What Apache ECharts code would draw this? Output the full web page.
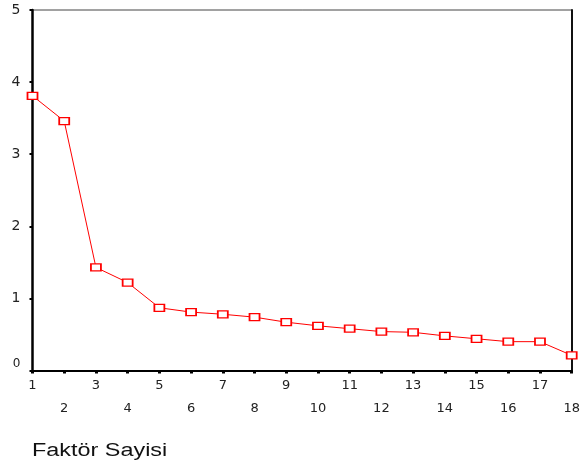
<!DOCTYPE html>
<html>
<head>
<meta charset="utf-8">
<script src="https://cdn.jsdelivr.net/npm/echarts@6/dist/echarts.min.js"></script>
<style>
html,body{margin:0;padding:0;background:#fff;}
#c{width:583px;height:463px;}
</style>
</head>
<body>
<div id="c"></div>
<script>
var factors = [1,2,3,4,5,6,7,8,9,10,11,12,13,14,15,16,17,18];
var eigenvalues = [3.81,3.46,1.43,1.22,0.87,0.81,0.78,0.74,0.67,0.62,0.58,0.54,0.53,0.48,0.44,0.40,0.40,0.21];
var yTicks = [0,1,2,3,4,5];
var xTitle = 'Faktör Sayisi';

var chart = echarts.init(document.getElementById('c'), null, {renderer:'canvas'});
var seriesData = factors.map(function(f,i){ return [f, eigenvalues[i]]; });
var labelFont = '"DejaVu Sans", sans-serif';

chart.setOption({
  animation:false,
  backgroundColor:'#fff',
  grid:{left:32.5, right:11.3, top:10, bottom:92.5, show:true, borderColor:'#444', borderWidth:1},
  xAxis:{
    type:'value', min:factors[0], max:factors[factors.length-1], interval:1,
    splitLine:{show:false},
    axisLine:{show:true, onZero:false, lineStyle:{color:'#000', width:1.8}},
    axisTick:{show:true, length:3, lineStyle:{color:'#000', width:3}},
    axisLabel:{
      margin:4, fontSize:13, fontFamily:labelFont, color:'#222', lineHeight:23,
      formatter:function(v){ return (v % 2 === 1) ? (v + '\n ') : (' \n' + v); }
    }
  },
  yAxis:[{
    type:'value', min:yTicks[0], max:yTicks[yTicks.length-1], interval:1,
    splitLine:{show:false},
    axisLine:{show:true, lineStyle:{color:'#000', width:2.5}},
    axisTick:{show:true, length:3, lineStyle:{color:'#000', width:2}},
    axisLabel:{
      margin:12, fontSize:14, fontFamily:labelFont, color:'#222',
      formatter:function(v){ return v === 0 ? '{z|0}' : String(v); },
      rich:{z:{fontSize:12, fontFamily:labelFont, color:'#222', padding:[0,0,13,0]}}
    }
  },{
    type:'value', position:'right', min:yTicks[0], max:yTicks[yTicks.length-1], interval:1,
    splitLine:{show:false},
    axisLine:{show:true, lineStyle:{color:'#111', width:2}},
    axisTick:{show:false}, axisLabel:{show:false}
  }],
  graphic:[{
    type:'text', x:32, y:451, scaleX:1.3,
    style:{text:xTitle, x:0, y:0, fontSize:18, fontFamily:'"Liberation Sans", Arial, sans-serif', fill:'#111', verticalAlign:'middle', align:'left'}
  }],
  series:[{
    type:'line', data:seriesData, yAxisIndex:0,
    symbol:'rect', symbolSize:[10,7],
    lineStyle:{color:'#ff0000', width:1},
    itemStyle:{color:'#fff', borderColor:'#ff0000', borderWidth:1.5},
    z:3
  }]
});
</script>
</body>
</html>
